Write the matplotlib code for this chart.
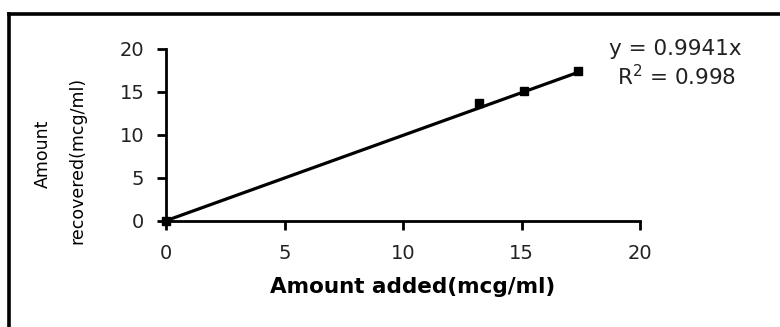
import matplotlib
matplotlib.use("Agg")
import matplotlib.pyplot as plt
from matplotlib.lines import Line2D
import numpy as np

plt.rcParams['font.family'] = ['DejaVu Sans']

amount_added = [0, 13.2, 15.1, 17.4]
amount_recovered = [0, 13.7, 15.15, 17.45]
slope = 0.9941
r_squared = 0.998
x_ticks = [0, 5, 10, 15, 20]
y_ticks = [0, 5, 10, 15, 20]

W, H = 780, 327
fig = plt.figure(figsize=(W / 100, H / 100), dpi=100)

# outer frame (top and left visible; right/bottom cropped)
fx = 9 / W
fy = 1 - 14 / H
fig.add_artist(Line2D([fx, fx], [-0.05, fy], transform=fig.transFigure,
                      color='black', lw=2.6, solid_capstyle='projecting'))
fig.add_artist(Line2D([fx, 1.05], [fy, fy], transform=fig.transFigure,
                      color='black', lw=2.6, solid_capstyle='projecting'))

ax = fig.add_axes([166 / W, 1 - 220.7 / H, (640 - 166) / W, (220.7 - 49) / H])
ax.set_xlim(0, 20)
ax.set_ylim(0, 20)
ax.patch.set_alpha(0)

xs = np.array([0, max(amount_added)])
ax.plot(xs, slope * xs, color='black', lw=2.3, zorder=3, clip_on=False)
ax.plot(amount_added, amount_recovered, linestyle='none', marker='s',
        markersize=6, color='black', zorder=4, clip_on=False)

for s in ['top', 'right']:
    ax.spines[s].set_visible(False)
for s in ['left', 'bottom']:
    ax.spines[s].set_linewidth(2.0)
ax.set_xticks(x_ticks)
ax.set_yticks(y_ticks)
ax.tick_params(axis='both', direction='out', length=6.5, width=2.0,
               labelsize=14, labelcolor='#222222')
ax.tick_params(axis='x', pad=10)
ax.tick_params(axis='y', pad=9)

ax.set_xlabel('Amount added(mcg/ml)', fontsize=15.5, fontweight='bold')
ax.xaxis.set_label_coords((413 - 166) / (640 - 166), -(287 - 220.7) / (220.7 - 49))
ax.xaxis.label.set_va('center')

fig.text(43 / W, 1 - 154 / H, 'Amount', rotation=90, fontsize=12.5,
         ha='center', va='center')
fig.text(77 / W, 1 - 160 / H, 'recovered(mcg/ml)', rotation=90, fontsize=12.5,
         ha='center', va='center')

fig.text(675 / W, 1 - 49 / H, 'y = %.4fx' % slope, fontsize=15.5,
         ha='center', va='center', color='#222222')
fig.text(677 / W, 1 - 77 / H, '$\\mathregular{R^2}$ = %.3f' % r_squared,
         fontsize=15.5, ha='center', va='center', color='#222222')

fig.savefig('out.png', dpi=100)
